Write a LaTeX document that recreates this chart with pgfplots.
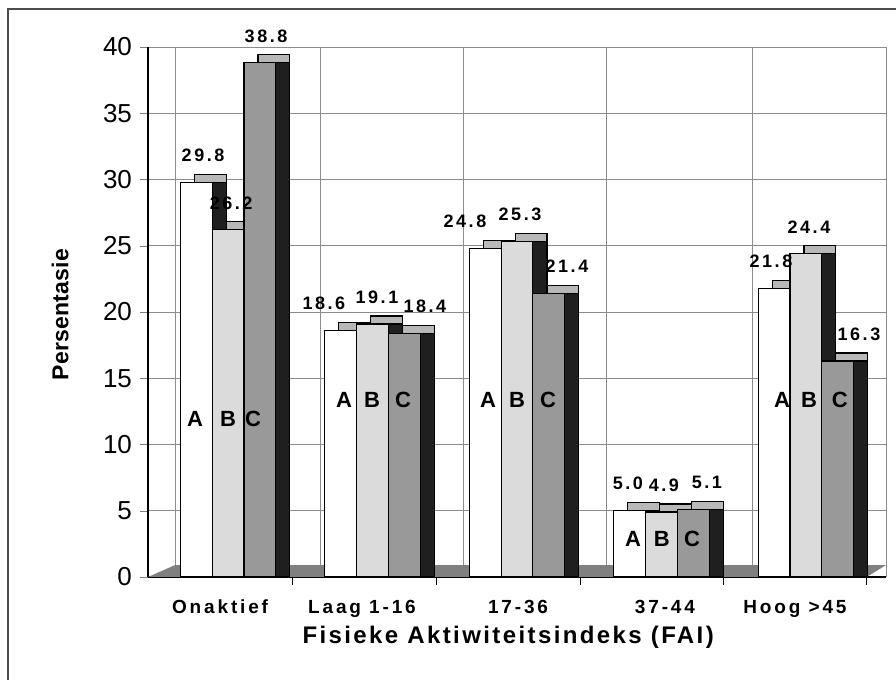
\documentclass[border=0pt]{standalone}
\usepackage{fontspec}
\setmainfont{Liberation Sans}
\newfontfamily\valfont[LetterSpace=14]{Liberation Sans}
\newfontfamily\catfont[LetterSpace=15]{Liberation Sans}
\newfontfamily\titfont[LetterSpace=10]{Liberation Sans}
\newfontfamily\yfont[LetterSpace=1]{Liberation Sans}
\usepackage{pgfplots}
\usepackage{pgfplotstable}
\pgfplotsset{compat=1.18}

\pgfplotstableread{
x A B C
0 29.8 26.2 38.8
1 18.6 19.1 18.4
2 24.8 25.3 21.4
3 5.0 4.9 5.1
4 21.8 24.4 16.3
}\data
% label positions (x, in axis units) for the value labels
\pgfplotstableread{
xa A xb B xc C
-0.173 29.8 0.021 26.2 0.263 38.8
0.664 18.6 1.031 19.1 1.363 18.4
1.640 24.8 2.021 25.3 2.346 21.4
2.768 5.0 3.017 4.9 3.315 5.1
3.758 21.8 4.021 24.4 4.367 16.3
}\labels

\definecolor{cB}{gray}{0.86}
\definecolor{cC}{gray}{0.60}
\definecolor{cTop}{gray}{0.72}
\definecolor{cSide}{gray}{0.12}

\begin{document}
\begin{tikzpicture}
\begin{axis}[
  at={(74pt,51.5pt)}, anchor=south west,
  scale only axis, width=369pt, height=265pt,
  xmin=-0.554, xmax=4.554, ymin=0, ymax=40,
  clip=false,
  ytick={0,5,...,40},
  xtick={-0.055,0.927,2.007,3.024,3.924},
  xticklabels={Onaktief,Laag 1-16,17-36,37-44,Hoog >45},
  major x tick style={draw=none},
  minor xtick={-0.367,0.64,1.63,2.62,3.63},
  xminorgrids=true, ymajorgrids=true,
  minor tick length=0pt,
  grid style={black!45, line width=0.45pt},
  minor grid style={black!45, line width=0.45pt},
  extra x ticks={0.443,1.44,2.436,3.426,4.42},
  extra x tick labels={},
  extra x tick style={grid=none, major tick length=4pt, tick align=outside, major x tick style={draw=black}},
  tick align=outside, major tick length=4pt,
  axis lines*=left,
  axis line style={black, line width=0.6pt},
  /pgf/number format/assume math mode=true,
  yticklabel style={font=\fontsize{13}{15}\selectfont, xshift=-0.5pt},
  xticklabel style={font=\fontsize{9.5}{11}\selectfont\catfont\bfseries, yshift=-4pt},
  xlabel={Fisieke Aktiwiteitsindeks (FAI)},
  ylabel={Persentasie},
  xlabel style={font=\fontsize{12}{14}\selectfont\titfont\bfseries, at={(axis description cs:0.488,0)}, anchor=center, yshift=-30pt},
  ylabel style={font=\fontsize{11.5}{13}\selectfont\yfont\bfseries, at={(axis description cs:-0.119,0.495)}, anchor=center},
  ybar, bar width=0.22,
  every axis plot/.append style={line width=0.6pt},
]
% floor
\fill[black!50] (axis cs:-0.554,0) -- (axis cs:4.42,0) -- (axis cs:4.554,0.9) -- (axis cs:-0.367,0.9) -- cycle;
\draw[black!45, line width=0.45pt] (rel axis cs:1,0) -- (rel axis cs:1,1);
% depth (top and side faces)
\addplot[bar shift=-0.123, fill=cTop, draw=black, yshift=4pt] table[x=x,y=A]{\data};
\addplot[bar shift=-0.123, fill=cSide, draw=black] table[x=x,y=A]{\data};
\addplot[bar shift=0.097, fill=cTop, draw=black, yshift=4pt] table[x=x,y=B]{\data};
\addplot[bar shift=0.097, fill=cSide, draw=black] table[x=x,y=B]{\data};
\addplot[bar shift=0.317, fill=cTop, draw=black, yshift=4pt] table[x=x,y=C]{\data};
\addplot[bar shift=0.317, fill=cSide, draw=black] table[x=x,y=C]{\data};
% front faces
\addplot[bar shift=-0.22, fill=white, draw=black] table[x=x,y=A]{\data};
\addplot[bar shift=0, fill=cB, draw=black] table[x=x,y=B]{\data};
\addplot[bar shift=0.22, fill=cC, draw=black] table[x=x,y=C]{\data};
% value labels
\pgfplotsset{vlab/.style={draw=none, fill=none, bar shift=0,
  nodes near coords={\pgfmathprintnumber[fixed,fixed zerofill,precision=1]{\pgfplotspointmeta}},
  nodes near coords style={font=\fontsize{9}{10}\selectfont\valfont\bfseries, anchor=south, inner sep=0pt, yshift=10pt}}}
\addplot[vlab] table[x=xa,y=A]{\labels};
\addplot[vlab] table[x=xb,y=B]{\labels};
\addplot[vlab] table[x=xc,y=C]{\labels};
% series letters
\begin{scope}[every node/.style={font=\fontsize{11}{13}\selectfont\bfseries, inner sep=0pt}]
\node at (axis cs:-0.228,11.9) {A};
\node at (axis cs:0,11.9) {B};
\node at (axis cs:0.173,11.9) {C};
\node at (axis cs:0.803,13.4) {A};
\node at (axis cs:0.997,13.4) {B};
\node at (axis cs:1.211,13.4) {C};
\node at (axis cs:1.799,13.4) {A};
\node at (axis cs:2.0,13.4) {B};
\node at (axis cs:2.215,13.4) {C};
\node at (axis cs:2.803,2.9) {A};
\node at (axis cs:3.003,2.9) {B};
\node at (axis cs:3.211,2.9) {C};
\node at (axis cs:3.834,13.4) {A};
\node at (axis cs:4.021,13.4) {B};
\node at (axis cs:4.235,13.4) {C};
\end{scope}
\end{axis}
\draw[black!70, line width=0.6pt] (4pt,-2pt) -- (4pt,335.5pt) -- (450pt,335.5pt);
\pgfresetboundingbox
\useasboundingbox (0,0) rectangle (448pt,340pt);
\end{tikzpicture}
\end{document}
